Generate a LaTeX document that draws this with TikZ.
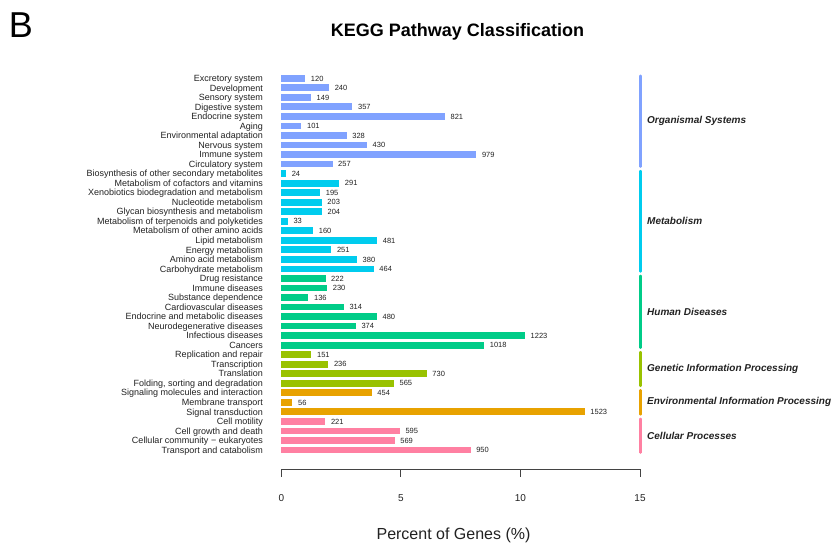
\documentclass[tikz,border=0pt]{standalone}
\usepackage{fontspec}
\setmainfont{Liberation Sans}
\usepackage{xcolor}
\usetikzlibrary{positioning}

\definecolor{organis}{HTML}{80A2FF}
\definecolor{metab}{HTML}{00CCEE}
\definecolor{human}{HTML}{00CC88}
\definecolor{genetic}{HTML}{99C200}
\definecolor{environ}{HTML}{E8A200}
\definecolor{cellular}{HTML}{FF80A2}
\definecolor{inktext}{HTML}{222222}

\tikzset{
  catlabel/.style={anchor=base east, inner sep=0pt, text=inktext, font=\fontsize{9}{9}\selectfont},
  vallabel/.style={anchor=base west, inner sep=0pt, xshift=5.5pt, text=inktext, font=\fontsize{7.5}{7.5}\selectfont},
  grouplabel/.style={anchor=west, inner sep=0pt, text=inktext, font=\fontsize{10}{10}\selectfont\bfseries\itshape},
  ticklabel/.style={inner sep=0pt, text=inktext, font=\fontsize{10}{10}\selectfont},
  groupline/.style={line width=2.4pt, line cap=round}
}

\begin{document}
\begin{tikzpicture}[x=1pt, y=-1pt]
\useasboundingbox (0,0) rectangle (838,547);
\fill[white] (0,0) rectangle (838,547);

% panel letter and title
\node[inner sep=0pt, font=\fontsize{36}{36}\selectfont] (panel) at (21,25) {B};
\node[inner sep=0pt, font=\fontsize{18}{18}\selectfont\bfseries] (title) at (457.5,32) {KEGG Pathway Classification};

% bars
\foreach \lab/\val/\col [count=\i from 0] in {
  Excretory system/120/organis, Development/240/organis, Sensory system/149/organis,
  Digestive system/357/organis, Endocrine system/821/organis, Aging/101/organis,
  Environmental adaptation/328/organis, Nervous system/430/organis,
  Immune system/979/organis, Circulatory system/257/organis,
  Biosynthesis of other secondary metabolites/24/metab,
  Metabolism of cofactors and vitamins/291/metab,
  Xenobiotics biodegradation and metabolism/195/metab,
  Nucleotide metabolism/203/metab, Glycan biosynthesis and metabolism/204/metab,
  Metabolism of terpenoids and polyketides/33/metab,
  Metabolism of other amino acids/160/metab, Lipid metabolism/481/metab,
  Energy metabolism/251/metab, Amino acid metabolism/380/metab,
  Carbohydrate metabolism/464/metab,
  Drug resistance/222/human, Immune diseases/230/human,
  Substance dependence/136/human, Cardiovascular diseases/314/human,
  Endocrine and metabolic diseases/480/human, Neurodegenerative diseases/374/human,
  Infectious diseases/1223/human, Cancers/1018/human,
  Replication and repair/151/genetic, Transcription/236/genetic,
  Translation/730/genetic, {Folding, sorting and degradation}/565/genetic,
  Signaling molecules and interaction/454/environ, Membrane transport/56/environ,
  Signal transduction/1523/environ,
  Cell motility/221/cellular, Cell growth and death/595/cellular,
  Cellular community − eukaryotes/569/cellular, Transport and catabolism/950/cellular}{
  \pgfmathsetmacro{\yc}{78.3+9.53*\i}
  \pgfmathsetmacro{\xe}{281.3+0.19925*\val}
  \fill[\col] (281.3,\yc-3.4) rectangle (\xe,\yc+3.4);
  \node[catlabel] (cat\i) at (263,\yc+3.2) {\lab};
  \node[vallabel] (val\i) at (\xe,\yc+2.7) {\val};
}

% group brackets
\foreach \grp/\first/\last/\col in {
  Organismal Systems/0/9/organis, Metabolism/10/20/metab,
  Human Diseases/21/28/human, Genetic Information Processing/29/32/genetic,
  Environmental Information Processing/33/35/environ,
  Cellular Processes/36/39/cellular}{
  \pgfmathsetmacro{\ytop}{78.3+9.53*\first-2.6}
  \pgfmathsetmacro{\ybot}{78.3+9.53*\last+2.6}
  \coordinate (gtop\first) at (640.5,\ytop);
  \coordinate (gbot\first) at (640.5,\ybot);
  \draw[groupline, \col] (gtop\first) -- (gbot\first);
  \node[grouplabel] (grp\first) at (647,{(\ytop+\ybot)/2}) {\grp};
}

% axis
\coordinate (axl) at (281.3,469);
\coordinate (axr) at (640,469);
\draw[inktext!85, line width=1pt] (axl) -- (axr);
\foreach \t in {0,5,10,15}{
  \coordinate (tk\t) at ({281.3+23.913*\t},469);
  \draw[inktext!85, line width=1pt] (tk\t) -- ++(0,8);
  \node[ticklabel] (tl\t) at ({281.3+23.913*\t},498) {\t};
}
\node[inner sep=0pt, text=inktext, font=\fontsize{16}{16}\selectfont] (xlabel) at (453.5,535) {Percent of Genes (\%)};
\end{tikzpicture}
\end{document}
